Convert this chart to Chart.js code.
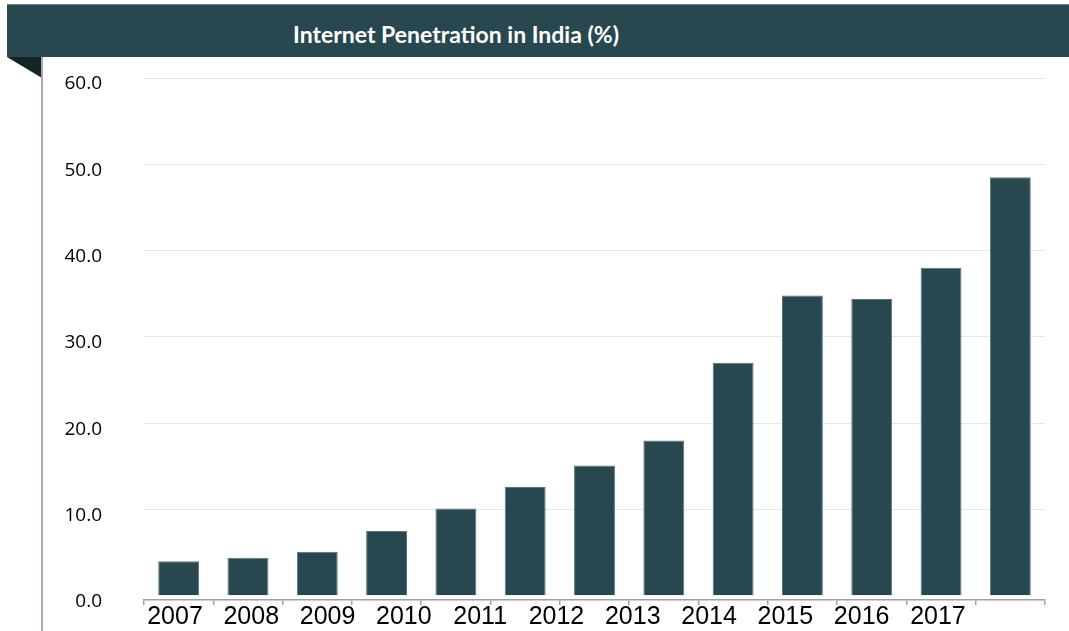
<!DOCTYPE html>
<html>
<head>
<meta charset="utf-8">
<title>Internet Penetration in India (%)</title>
<script src="https://cdn.jsdelivr.net/npm/chart.js@4.4.1/dist/chart.umd.min.js"></script>
<style>
    html, body { margin: 0; padding: 0; background: #fff; }
    #wrap { position: relative; width: 1069px; height: 631px; overflow: hidden; }
    #grafico { position: absolute; left: 0; top: 0; }
    #faixa {
        position: absolute; left: 7px; top: 4px; width: 1062px; height: 53px;
        background: #29474f; border-top: 1px solid #6e8288; box-sizing: border-box;
    }
    #titulo {
        position: absolute; left: 456px; top: 34px; transform: translate(-50%, -50%);
        color: #fff; font: bold 23px Lato, sans-serif; white-space: nowrap;
    }
    #dobra {
        position: absolute; left: 7px; top: 57px; width: 0; height: 0;
        border-top: 21px solid #15232a; border-left: 35px solid transparent;
    }
    #linhaLateral {
        position: absolute; left: 41px; top: 57px; width: 2px; height: 580px;
        background: #9eabb1;
    }
</style>
</head>
<body>
<div id="wrap">
    <canvas id="grafico" width="1069" height="631"></canvas>
    <div id="faixa"></div>
    <div id="titulo">Internet Penetration in India (%)</div>
    <div id="dobra"></div>
    <div id="linhaLateral"></div>
</div>
<script>
// categorias das barras (as duas últimas sem rótulo no original)
const categorias = ['2007', '2008', '2009', '2010', '2011', '2012', '2013', '2014', '2015', '2016', '2017', '', ''];
// penetração da internet (%)
const penetracao = [4.0, 4.4, 5.1, 7.5, 10.1, 12.6, 15.1, 18.0, 27.0, 34.8, 34.4, 38.0, 48.5];
// rótulos de ano que aparecem embaixo do eixo (espaçados diferente das barras)
const rotulosAno = ['2007', '2008', '2009', '2010', '2011', '2012', '2013', '2014', '2015', '2016', '2017'];
// ticks do eixo y
const ticksY = [0, 10, 20, 30, 40, 50, 60];

const COR_BARRA = '#29474f';

document.addEventListener('DOMContentLoaded', function() {
    const ctx = document.getElementById('grafico');
    Chart.defaults.font.family = "'Open Sans', sans-serif";

    new Chart(ctx.getContext('2d'), {
        type: 'bar',
        data: {
            labels: categorias,
            datasets: [{
                label: 'Internet Penetration in India (%)',
                data: penetracao,
                backgroundColor: COR_BARRA,
                borderColor: '#5a737a',
                borderWidth: 1,
                barPercentage: 0.59,
                categoryPercentage: 1
            }]
        },
        options: {
            responsive: false,
            animation: false,
            devicePixelRatio: 1,
            layout: {
                padding: { top: 78, right: 24, left: 0, bottom: 0 }
            },
            plugins: {
                legend: { display: false },
                tooltip: { enabled: false }
            },
            scales: {
                x: {
                    type: 'category',
                    position: 'bottom',
                    weight: 0,
                    offset: true,
                    grid: {
                        offset: true,
                        drawOnChartArea: false,
                        drawTicks: true,
                        tickLength: 5,
                        color: '#a0a0a0',
                        lineWidth: 1.5
                    },
                    border: { color: '#a0a0a0', width: 1.5 },
                    ticks: { display: false },
                    afterFit: function(scale) { scale.height = 3; }
                },
                anos: {
                    type: 'linear',
                    position: 'bottom',
                    weight: 1,
                    offset: false,
                    min: -0.406,
                    max: 11.403,
                    grid: { display: false },
                    border: { display: false },
                    afterBuildTicks: function(scale) {
                        scale.ticks = rotulosAno.map((_, i) => ({ value: i }));
                    },
                    ticks: {
                        autoSkip: false,
                        maxRotation: 0,
                        padding: -6,
                        color: '#000',
                        font: { family: "'Liberation Sans', Arial, sans-serif", size: 25, lineHeight: 1 },
                        callback: function(value) {
                            return rotulosAno[value] !== undefined ? rotulosAno[value] : '';
                        }
                    },
                    afterFit: function(scale) { scale.height = 28; }
                },
                y: {
                    min: -0.5,
                    max: 60,
                    afterBuildTicks: function(scale) {
                        scale.ticks = ticksY.map(v => ({ value: v }));
                    },
                    grid: {
                        drawTicks: true,
                        tickLength: 42,
                        tickColor: 'rgba(0,0,0,0)',
                        lineWidth: 1,
                        color: function(c) {
                            return c.tick && c.tick.value === 0 ? 'rgba(0,0,0,0)' : '#e6e6e6';
                        }
                    },
                    border: { display: false },
                    ticks: {
                        padding: 0,
                        labelOffset: 6,
                        color: '#000',
                        font: { size: 19 },
                        callback: function(value) {
                            return value.toFixed(1);
                        }
                    },
                    afterFit: function(scale) { scale.width = 144; }
                }
            }
        }
    });
});
</script>
</body>
</html>
